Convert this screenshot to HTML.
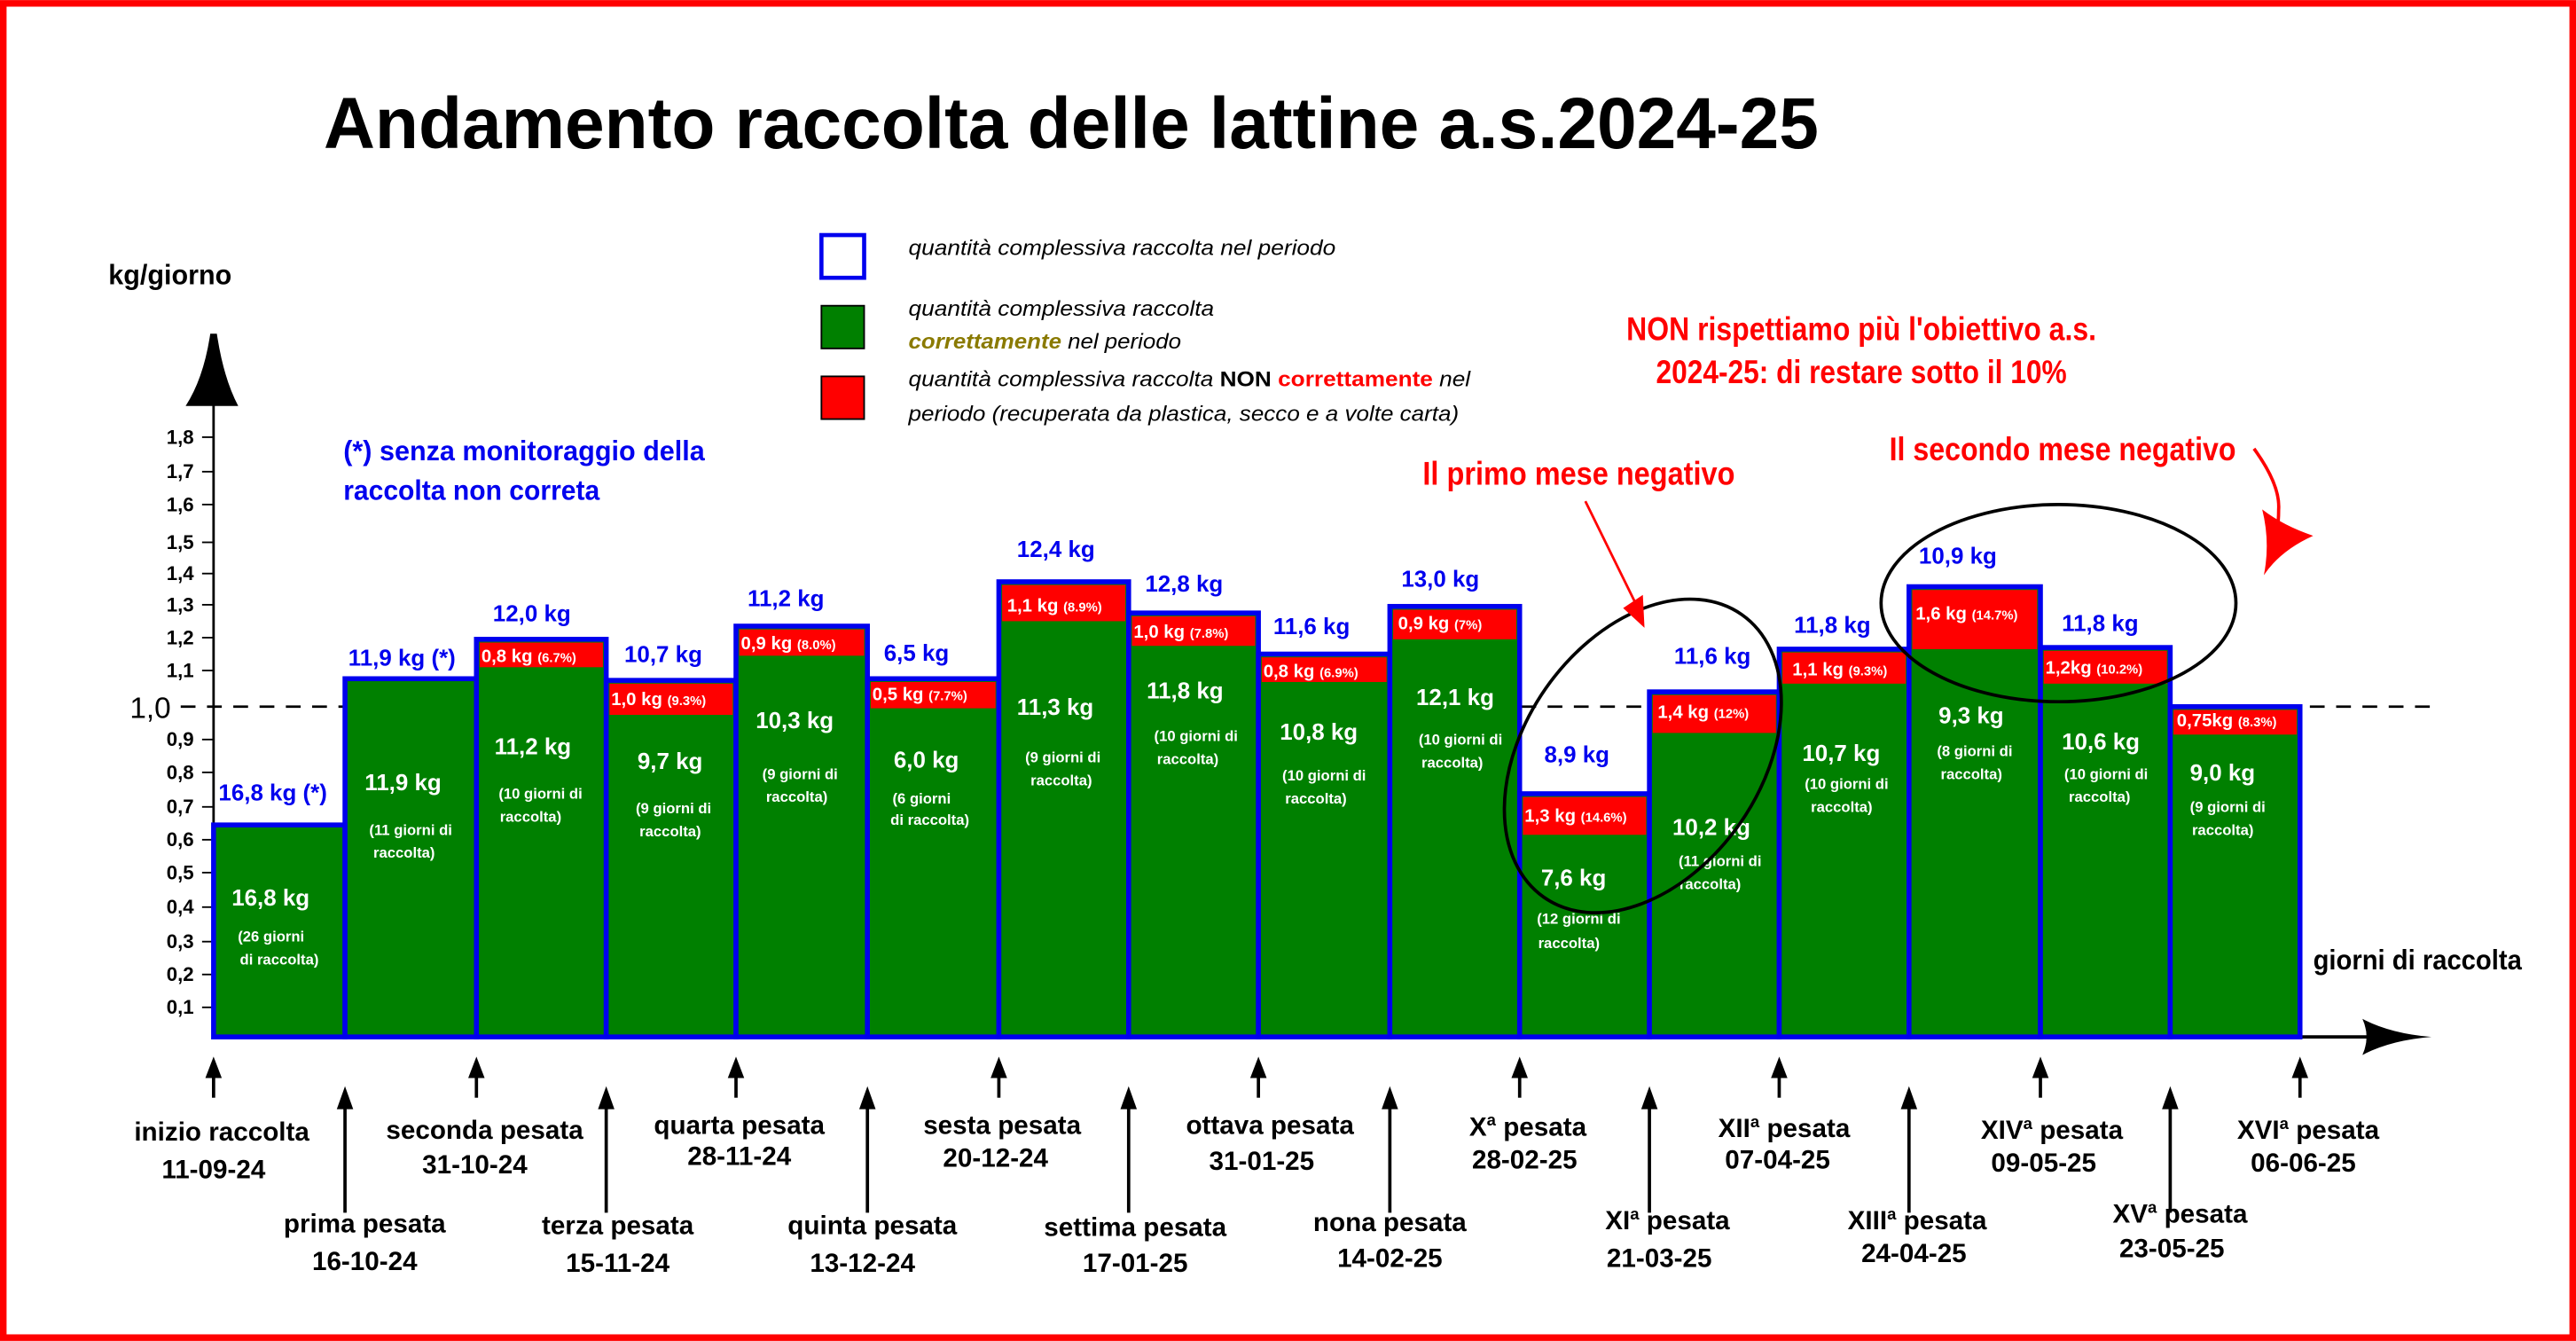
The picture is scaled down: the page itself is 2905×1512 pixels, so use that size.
<!DOCTYPE html>
<html><head><meta charset="utf-8"><style>
html,body{margin:0;padding:0;background:#fff}
svg{display:block}
text{font-family:"Liberation Sans",sans-serif;font-weight:bold}
.b{fill:#0000ee}.w{fill:#fff}.k{fill:#000}.r{fill:#ff0000}
</style></head><body>
<svg width="2905" height="1512" viewBox="0 0 1568 816" xmlns="http://www.w3.org/2000/svg">
<rect x="2" y="2" width="1564" height="812" fill="#fff" stroke="#ff0000" stroke-width="4"/>
<text x="197" y="90" font-size="44" textLength="910" lengthAdjust="spacingAndGlyphs" class="k">Andamento raccolta delle lattine a.s.2024-25</text>
<text x="66" y="173" font-size="17" textLength="75" lengthAdjust="spacingAndGlyphs" class="k">kg/giorno</text>
<!-- legend -->
<rect x="500" y="143" width="26" height="26" fill="#fff" stroke="#0000ee" stroke-width="2.5"/>
<rect x="500" y="186" width="26" height="26" fill="#008000" stroke="#000" stroke-width="1"/>
<rect x="500" y="229" width="26" height="26" fill="#ff0000" stroke="#000" stroke-width="1"/>
<g font-style="italic" font-size="13">
<text x="553" y="155" class="k" style="font-weight:normal" textLength="260" lengthAdjust="spacingAndGlyphs">quantità complessiva raccolta nel periodo</text>
<text x="553" y="192" class="k" style="font-weight:normal" textLength="186" lengthAdjust="spacingAndGlyphs">quantità complessiva raccolta</text>
<text x="553" y="212" style="font-weight:normal" textLength="166" lengthAdjust="spacingAndGlyphs"><tspan fill="#8a7a00" font-weight="bold">correttamente</tspan><tspan fill="#000"> nel periodo</tspan></text>
<text x="553" y="235" style="font-weight:normal" textLength="342" lengthAdjust="spacingAndGlyphs"><tspan fill="#000">quantità complessiva raccolta  </tspan><tspan fill="#000" font-weight="bold" font-style="normal">NON </tspan><tspan fill="#ff0000" font-weight="bold" font-style="normal">correttamente</tspan><tspan fill="#000"> nel</tspan></text>
<text x="553" y="256" class="k" style="font-weight:normal" textLength="335" lengthAdjust="spacingAndGlyphs">periodo (recuperata da plastica, secco e a volte carta)</text>
</g>
<text x="990" y="207" font-size="20" class="r" textLength="286" lengthAdjust="spacingAndGlyphs">NON rispettiamo più l'obiettivo a.s.</text>
<text x="1008" y="233" font-size="20" class="r" textLength="250" lengthAdjust="spacingAndGlyphs">2024-25: di restare sotto il 10%</text>
<text x="866" y="295" font-size="20" class="r" textLength="190" lengthAdjust="spacingAndGlyphs">Il primo mese negativo</text>
<text x="1150" y="280" font-size="20" class="r" textLength="211" lengthAdjust="spacingAndGlyphs">Il secondo mese negativo</text>
<text x="209" y="280" font-size="17" class="b" textLength="220" lengthAdjust="spacingAndGlyphs">(*) senza monitoraggio della</text>
<text x="209" y="304" font-size="17" class="b" textLength="156" lengthAdjust="spacingAndGlyphs">raccolta non correta</text>
<text x="1408" y="590" font-size="17" class="k" textLength="127" lengthAdjust="spacingAndGlyphs">giorni di raccolta</text>
<!-- y axis -->
<line x1="130" y1="632" x2="130" y2="240" stroke="#000" stroke-width="1.5"/>
<path d="M113 247 Q124 230 128 203 L132 203 Q136 230 145 247 Z" fill="#000"/>
<g font-size="12" class="k" text-anchor="end">
<text x="118" y="270">1,8</text><text x="118" y="291">1,7</text><text x="118" y="311">1,6</text><text x="118" y="334">1,5</text><text x="118" y="353">1,4</text><text x="118" y="372">1,3</text><text x="118" y="392">1,2</text><text x="118" y="412">1,1</text>
<text x="118" y="454">0,9</text><text x="118" y="474">0,8</text><text x="118" y="495">0,7</text><text x="118" y="515">0,6</text><text x="118" y="535">0,5</text><text x="118" y="556">0,4</text><text x="118" y="577">0,3</text><text x="118" y="597">0,2</text><text x="118" y="617">0,1</text>
</g>
<text x="104" y="437" font-size="18" class="k" text-anchor="end" style="font-weight:normal">1,0</text>
<g stroke="#000" stroke-width="1">
<line x1="123" y1="266" x2="130" y2="266"/><line x1="123" y1="287" x2="130" y2="287"/><line x1="123" y1="307" x2="130" y2="307"/><line x1="123" y1="330" x2="130" y2="330"/><line x1="123" y1="349" x2="130" y2="349"/><line x1="123" y1="368" x2="130" y2="368"/><line x1="123" y1="388" x2="130" y2="388"/><line x1="123" y1="408" x2="130" y2="408"/><line x1="123" y1="450" x2="130" y2="450"/><line x1="123" y1="470" x2="130" y2="470"/><line x1="123" y1="491" x2="130" y2="491"/><line x1="123" y1="511" x2="130" y2="511"/><line x1="123" y1="531" x2="130" y2="531"/><line x1="123" y1="552" x2="130" y2="552"/><line x1="123" y1="573" x2="130" y2="573"/><line x1="123" y1="593" x2="130" y2="593"/><line x1="123" y1="613" x2="130" y2="613"/>
</g>
<line x1="110" y1="430" x2="1480" y2="430" stroke="#000" stroke-width="1.5" stroke-dasharray="9,7"/>
<!-- x axis arrow -->
<line x1="130" y1="631" x2="1445" y2="631" stroke="#000" stroke-width="2"/>
<path d="M1438 620 Q1455 629 1480 631 Q1455 633 1438 642 Q1443 631 1438 620 Z" fill="#000"/>
<!-- bars -->
<g stroke="#0000ee" stroke-width="3">
<rect x="130" y="502" width="80" height="129" fill="#008000"/>
<rect x="210" y="413" width="80" height="218" fill="#008000"/>
<rect x="290" y="389" width="79" height="242" fill="#008000"/>
<rect x="369" y="414" width="79" height="217" fill="#008000"/>
<rect x="448" y="381" width="80" height="250" fill="#008000"/>
<rect x="528" y="413" width="80" height="218" fill="#008000"/>
<rect x="608" y="354" width="79" height="277" fill="#008000"/>
<rect x="687" y="373" width="79" height="258" fill="#008000"/>
<rect x="766" y="398" width="80" height="233" fill="#008000"/>
<rect x="846" y="369" width="79" height="262" fill="#008000"/>
<rect x="925" y="483" width="79" height="148" fill="#008000"/>
<rect x="1004" y="421" width="79" height="210" fill="#008000"/>
<rect x="1083" y="395" width="79" height="236" fill="#008000"/>
<rect x="1162" y="357" width="80" height="274" fill="#008000"/>
<rect x="1242" y="394" width="79" height="237" fill="#008000"/>
<rect x="1321" y="430" width="79" height="201" fill="#008000"/>
</g>
<g fill="#ff0000">
<rect x="292" y="391" width="75" height="15"/>
<rect x="371" y="416" width="75" height="19"/>
<rect x="450" y="383" width="76" height="16"/>
<rect x="530" y="415" width="76" height="16"/>
<rect x="610" y="356" width="75" height="22"/>
<rect x="689" y="375" width="75" height="18"/>
<rect x="768" y="400" width="76" height="15"/>
<rect x="848" y="371" width="75" height="18"/>
<rect x="927" y="485" width="75" height="23"/>
<rect x="1006" y="423" width="75" height="23"/>
<rect x="1085" y="397" width="75" height="19"/>
<rect x="1164" y="359" width="76" height="36"/>
<rect x="1244" y="396" width="75" height="20"/>
<rect x="1323" y="432" width="75" height="15"/>
</g>
<!-- blue totals -->
<g font-size="14" class="b" style="font-weight:normal">
<text x="133" y="487" font-weight="bold">16,8 kg (*)</text>
<text x="212" y="405" font-weight="bold">11,9 kg (*)</text>
<text x="300" y="378" font-weight="bold">12,0 kg</text>
<text x="380" y="403" font-weight="bold">10,7 kg</text>
<text x="455" y="369" font-weight="bold">11,2 kg</text>
<text x="538" y="402" font-weight="bold">6,5 kg</text>
<text x="619" y="339" font-weight="bold">12,4 kg</text>
<text x="697" y="360" font-weight="bold">12,8 kg</text>
<text x="775" y="386" font-weight="bold">11,6 kg</text>
<text x="853" y="357" font-weight="bold">13,0 kg</text>
<text x="940" y="464" font-weight="bold">8,9 kg</text>
<text x="1019" y="404" font-weight="bold">11,6 kg</text>
<text x="1092" y="385" font-weight="bold">11,8 kg</text>
<text x="1168" y="343" font-weight="bold">10,9 kg</text>
<text x="1255" y="384" font-weight="bold">11,8 kg</text>
</g>
<!-- red labels -->
<g class="w" font-size="11">
<text x="293" y="403">0,8 kg <tspan font-size="8">(6.7%)</tspan></text>
<text x="372" y="429">1,0 kg <tspan font-size="8"> (9.3%)</tspan></text>
<text x="451" y="395">0,9 kg <tspan font-size="8"> (8.0%)</tspan></text>
<text x="531" y="426">0,5 kg <tspan font-size="8"> (7.7%)</tspan></text>
<text x="613" y="372">1,1 kg <tspan font-size="8">(8.9%)</tspan></text>
<text x="690" y="388">1,0 kg <tspan font-size="8"> (7.8%)</tspan></text>
<text x="769" y="412">0,8 kg <tspan font-size="8"> (6.9%)</tspan></text>
<text x="851" y="383">0,9 kg <tspan font-size="8">  (7%)</tspan></text>
<text x="928" y="500">1,3 kg <tspan font-size="8">(14.6%)</tspan></text>
<text x="1009" y="437">1,4 kg <tspan font-size="8">(12%)</tspan></text>
<text x="1091" y="411">1,1 kg <tspan font-size="8">(9.3%)</tspan></text>
<text x="1166" y="377">1,6 kg <tspan font-size="8">(14.7%)</tspan></text>
<text x="1245" y="410">1,2kg <tspan font-size="8"> (10.2%)</tspan></text>
<text x="1325" y="442">0,75kg <tspan font-size="8">(8.3%)</tspan></text>
</g>
<!-- green labels -->
<g class="w" font-size="14">
<text x="141" y="551">16,8 kg</text>
<text x="222" y="481">11,9 kg</text>
<text x="301" y="459">11,2 kg</text>
<text x="388" y="468">9,7 kg</text>
<text x="460" y="443">10,3 kg</text>
<text x="544" y="467">6,0 kg</text>
<text x="619" y="435">11,3 kg</text>
<text x="698" y="425">11,8 kg</text>
<text x="779" y="450">10,8 kg</text>
<text x="862" y="429">12,1 kg</text>
<text x="938" y="539">7,6 kg</text>
<text x="1018" y="508">10,2 kg</text>
<text x="1097" y="463">10,7 kg</text>
<text x="1180" y="440">9,3 kg</text>
<text x="1255" y="456">10,6 kg</text>
<text x="1333" y="475">9,0 kg</text>
</g>
<g class="w" font-size="9" text-anchor="middle" style="font-weight:normal">
<text x="165" y="573" font-weight="bold">(26 giorni</text><text x="170" y="587" font-weight="bold">di raccolta)</text>
<text x="250" y="508" font-weight="bold">(11 giorni di</text><text x="246" y="522" font-weight="bold">raccolta)</text>
<text x="329" y="486" font-weight="bold">(10 giorni di</text><text x="323" y="500" font-weight="bold">raccolta)</text>
<text x="410" y="495" font-weight="bold">(9 giorni di</text><text x="408" y="509" font-weight="bold">raccolta)</text>
<text x="487" y="474" font-weight="bold">(9 giorni di</text><text x="485" y="488" font-weight="bold">raccolta)</text>
<text x="561" y="489" font-weight="bold">(6 giorni</text><text x="566" y="502" font-weight="bold">di raccolta)</text>
<text x="647" y="464" font-weight="bold">(9 giorni di</text><text x="646" y="478" font-weight="bold">raccolta)</text>
<text x="728" y="451" font-weight="bold">(10 giorni di</text><text x="723" y="465" font-weight="bold">raccolta)</text>
<text x="806" y="475" font-weight="bold">(10 giorni di</text><text x="801" y="489" font-weight="bold">raccolta)</text>
<text x="889" y="453" font-weight="bold">(10 giorni di</text><text x="884" y="467" font-weight="bold">raccolta)</text>
<text x="961" y="562" font-weight="bold">(12 giorni di</text><text x="955" y="577" font-weight="bold">raccolta)</text>
<text x="1047" y="527" font-weight="bold">(11 giorni di</text><text x="1041" y="541" font-weight="bold">raccolta)</text>
<text x="1124" y="480" font-weight="bold">(10 giorni di</text><text x="1121" y="494" font-weight="bold">raccolta)</text>
<text x="1202" y="460" font-weight="bold">(8 giorni di</text><text x="1200" y="474" font-weight="bold">raccolta)</text>
<text x="1282" y="474" font-weight="bold">(10 giorni di</text><text x="1278" y="488" font-weight="bold">raccolta)</text>
<text x="1356" y="494" font-weight="bold">(9 giorni di</text><text x="1353" y="508" font-weight="bold">raccolta)</text>
</g>
<!-- ellipses -->
<ellipse cx="1000" cy="460" rx="72" ry="105" transform="rotate(35 1000 460)" fill="none" stroke="#000" stroke-width="2"/>
<ellipse cx="1253" cy="367" rx="108" ry="60" fill="none" stroke="#000" stroke-width="2"/>
<!-- red arrows -->
<line x1="965" y1="305" x2="996" y2="368" stroke="#ff0000" stroke-width="1.5"/>
<polygon points="988,370 1001,382 1000,362" fill="#ff0000"/>
<path d="M1372 273 Q1388 295 1387 310 Q1387 325 1383 335" fill="none" stroke="#ff0000" stroke-width="2"/>
<path d="M1377 310 Q1390 320 1408 326 Q1388 335 1378 350 Q1382 330 1377 310 Z" fill="#ff0000"/>
<!-- bottom arrows -->
<g fill="#000" stroke="#000">
<g stroke-width="2">
<line x1="130" y1="668" x2="130" y2="652"/><line x1="290" y1="668" x2="290" y2="652"/><line x1="448" y1="668" x2="448" y2="652"/><line x1="608" y1="668" x2="608" y2="652"/><line x1="766" y1="668" x2="766" y2="652"/><line x1="925" y1="668" x2="925" y2="652"/><line x1="1083" y1="668" x2="1083" y2="652"/><line x1="1242" y1="668" x2="1242" y2="652"/><line x1="1400" y1="668" x2="1400" y2="652"/>
<line x1="210" y1="738" x2="210" y2="670"/><line x1="369" y1="738" x2="369" y2="670"/><line x1="528" y1="738" x2="528" y2="670"/><line x1="687" y1="738" x2="687" y2="670"/><line x1="846" y1="738" x2="846" y2="670"/><line x1="1004" y1="738" x2="1004" y2="670"/><line x1="1162" y1="738" x2="1162" y2="670"/><line x1="1321" y1="738" x2="1321" y2="670"/>
</g>
<g stroke="none">
<polygon points="125,656 130,643 135,656"/><polygon points="285,656 290,643 295,656"/><polygon points="443,656 448,643 453,656"/><polygon points="603,656 608,643 613,656"/><polygon points="761,656 766,643 771,656"/><polygon points="920,656 925,643 930,656"/><polygon points="1078,656 1083,643 1088,656"/><polygon points="1237,656 1242,643 1247,656"/><polygon points="1395,656 1400,643 1405,656"/>
<polygon points="205,675 210,661 215,675"/><polygon points="364,675 369,661 374,675"/><polygon points="523,675 528,661 533,675"/><polygon points="682,675 687,661 692,675"/><polygon points="841,675 846,661 851,675"/><polygon points="999,675 1004,661 1009,675"/><polygon points="1157,675 1162,661 1167,675"/><polygon points="1316,675 1321,661 1326,675"/>
</g>
</g>
<!-- bottom labels -->
<g class="k" font-size="16" text-anchor="middle">
<text x="135" y="694">inizio raccolta</text><text x="130" y="717">11-09-24</text>
<text x="222" y="750">prima pesata</text><text x="222" y="773">16-10-24</text>
<text x="295" y="693">seconda pesata</text><text x="289" y="714">31-10-24</text>
<text x="376" y="751">terza pesata</text><text x="376" y="774">15-11-24</text>
<text x="450" y="690">quarta pesata</text><text x="450" y="709">28-11-24</text>
<text x="531" y="751">quinta pesata</text><text x="525" y="774">13-12-24</text>
<text x="610" y="690">sesta pesata</text><text x="606" y="710">20-12-24</text>
<text x="691" y="752">settima pesata</text><text x="691" y="774">17-01-25</text>
<text x="773" y="690">ottava pesata</text><text x="768" y="712">31-01-25</text>
<text x="846" y="749">nona pesata</text><text x="846" y="771">14-02-25</text>
<text x="930" y="691">X<tspan font-size="10" dy="-6">a</tspan><tspan dy="6"> pesata</tspan></text><text x="928" y="711">28-02-25</text>
<text x="1015" y="748">XI<tspan font-size="10" dy="-6">a</tspan><tspan dy="6"> pesata</tspan></text><text x="1010" y="771">21-03-25</text>
<text x="1086" y="692">XII<tspan font-size="10" dy="-6">a</tspan><tspan dy="6"> pesata</tspan></text><text x="1082" y="711">07-04-25</text>
<text x="1167" y="748">XIII<tspan font-size="10" dy="-6">a</tspan><tspan dy="6"> pesata</tspan></text><text x="1165" y="768">24-04-25</text>
<text x="1249" y="693">XIV<tspan font-size="10" dy="-6">a</tspan><tspan dy="6"> pesata</tspan></text><text x="1244" y="713">09-05-25</text>
<text x="1327" y="744">XV<tspan font-size="10" dy="-6">a</tspan><tspan dy="6"> pesata</tspan></text><text x="1322" y="765">23-05-25</text>
<text x="1405" y="693">XVI<tspan font-size="10" dy="-6">a</tspan><tspan dy="6"> pesata</tspan></text><text x="1402" y="713">06-06-25</text>
</g>
</svg>
</body></html>
